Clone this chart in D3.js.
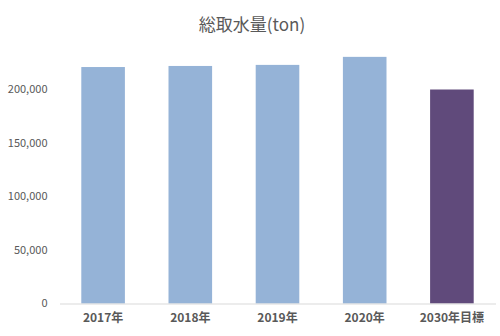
<!DOCTYPE html>
<html>
<head>
<meta charset="utf-8">
<script src="https://cdn.jsdelivr.net/npm/d3@7"></script>
<style>
  body { margin: 0; background: #fff; }
  text { font-family: "Noto Sans CJK JP", "Noto Sans", sans-serif; }
</style>
</head>
<body>
<div id="chart"></div>
<script>
// 総取水量 data
const categories = ["2017年", "2018年", "2019年", "2020年", "2030年目標"]
const values = [221000, 222000, 223000, 230500, 200000]
const barColors = ["#95b3d7", "#95b3d7", "#95b3d7", "#95b3d7", "#604a7b"]
const yTicks = [0, 50000, 100000, 150000, 200000]

let dims = {
    width: 500,
    height: 336,
    margin: { top: 35, bottom: 32.5, left: 59.5, right: 4.5 }
}

var svg = d3.select("#chart").append("svg")
    .attr("width", dims.width)
    .attr("height", dims.height)

const w = dims.width - dims.margin.left - dims.margin.right
const h = dims.height - dims.margin.top - dims.margin.bottom

const g = svg.append("g")
    .attr("transform", `translate(${dims.margin.left},${dims.margin.top})`)

var xScale = d3.scaleBand()
    .domain(categories)
    .range([0, w])
    .paddingInner(0.5)
    .paddingOuter(0.25)

// 0 at baseline, 250,000 near top
var yScale = d3.scaleLinear()
    .domain([0, 250000])
    .range([h, h - 214 * 1.25])

// y axis labels (no line)
g.selectAll("text.ylab")
    .data(yTicks)
    .enter()
    .append("text")
    .attr("class", "ylab")
    .attr("x", -12)
    .attr("y", d => yScale(d))
    .attr("dy", "0.35em")
    .attr("text-anchor", "end")
    .attr("font-size", "11px")
    .attr("fill", "#595959")
    .text(d => d3.format(",")(d))

g.selectAll("rect.bar")
    .data(values)
    .enter()
    .append("rect")
    .attr("class", "bar")
    .attr("x", (d, i) => xScale(categories[i]))
    .attr("width", xScale.bandwidth())
    .attr("y", d => yScale(d))
    .attr("height", d => h - yScale(d))
    .attr("fill", (d, i) => barColors[i])

// x axis
const xAxis = d3.axisBottom(xScale).tickSize(0).tickPadding(10)
const xg = g.append("g")
    .attr("transform", `translate(0,${h})`)
    .call(xAxis)
xg.select(".domain").attr("stroke", "#d9d9d9")
xg.selectAll("text")
    .attr("font-size", "12px")
    .attr("font-weight", "bold")
    .attr("fill", "#595959")
    .style("font-family", '"Noto Sans CJK JP", sans-serif')

svg.append("text")
    .attr("x", dims.width / 2 + 2)
    .attr("y", 31)
    .attr("text-anchor", "middle")
    .attr("font-size", "17px")
    .attr("fill", "#595959")
    .text("総取水量(ton)")
</script>
</body>
</html>
